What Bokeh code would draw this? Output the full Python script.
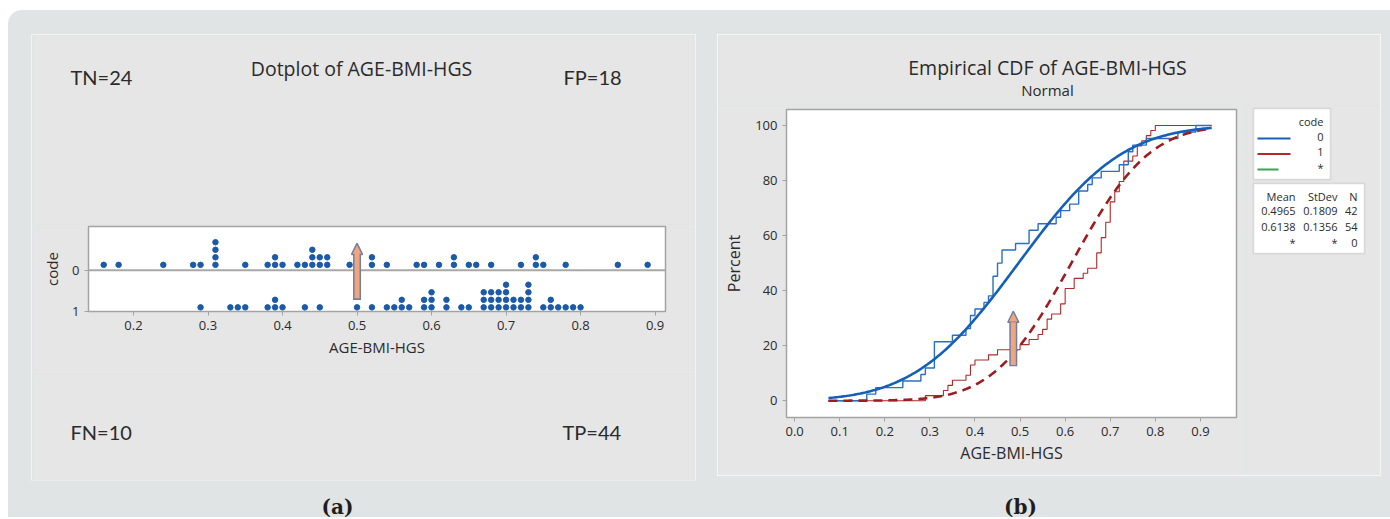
import numpy as np
from math import erf, sqrt
from bokeh.plotting import figure
from bokeh.models import (Range1d, FixedTicker, Label, Span, Arrow, NormalHead,
                          BoxAnnotation, Spacer)
from bokeh.layouts import row, column
from bokeh.embed import file_html
from bokeh.resources import INLINE

# ---------------- data ----------------
code0_values = [0.16, 0.18, 0.24, 0.28, 0.29, 0.31, 0.31, 0.31, 0.31, 0.35, 0.38,
                0.39, 0.39, 0.40, 0.42, 0.43, 0.44, 0.44, 0.44, 0.45, 0.45, 0.46,
                0.46, 0.49, 0.52, 0.52, 0.54, 0.58, 0.59, 0.61, 0.63, 0.63, 0.65,
                0.66, 0.68, 0.72, 0.74, 0.74, 0.75, 0.78, 0.85, 0.89]
code1_values = [0.29, 0.33, 0.34, 0.35, 0.38, 0.39, 0.39, 0.40, 0.43, 0.45, 0.50,
                0.52, 0.54, 0.55, 0.56, 0.56, 0.57, 0.59, 0.59, 0.60, 0.60, 0.60,
                0.62, 0.62, 0.64, 0.65, 0.67, 0.67, 0.67, 0.68, 0.68, 0.68, 0.69,
                0.69, 0.69, 0.70, 0.70, 0.70, 0.70, 0.71, 0.71, 0.72, 0.72, 0.73,
                0.73, 0.73, 0.73, 0.75, 0.76, 0.76, 0.77, 0.78, 0.79, 0.80]
group_codes = ["0", "1", "*"]
stat_means = [0.4965, 0.6138]
stat_stdevs = [0.1809, 0.1356]
stat_ns = [42, 54, 0]
confusion_labels = ["TN=24", "FP=18", "FN=10", "TP=44"]
fit_range = [0.075, 0.925]

dot_x_ticks = [0.2, 0.3, 0.4, 0.5, 0.6, 0.7, 0.8, 0.9]
dot_x_tick_labels = ["0.2", "0.3", "0.4", "0.5", "0.6", "0.7", "0.8", "0.9"]
dot_y_ticks = [0, 1]
dot_y_tick_labels = ["0", "1"]
cdf_x_ticks = [0.0, 0.1, 0.2, 0.3, 0.4, 0.5, 0.6, 0.7, 0.8, 0.9]
cdf_x_tick_labels = ["0.0", "0.1", "0.2", "0.3", "0.4", "0.5", "0.6", "0.7", "0.8", "0.9"]
cdf_y_ticks = [0, 20, 40, 60, 80, 100]
cdf_y_tick_labels = ["0", "20", "40", "60", "80", "100"]

# ---------------- styles ----------------
OUTER = "#e1e4e5"
PANEL = "#e6e6e6"
FRAME_LINE = "#a3a3a3"
TXT = "#2b2b2b"
DOT_BLUE = "#1b5aa8"
BLUE = "#1460b8"
BLUE_THIN = "#2a6fc4"
RED = "#9e1b20"
RED_THIN = "#b02a2a"
GREEN = "#3aa655"
ARROW_FILL = "#f2a47c"
ARROW_LINE = "#6f80a3"
FONT = "Open Sans"


def no_align(p):
    try:
        p.frame_align = False
    except Exception:
        pass


def style_axes(p, xticks, xlabels, yticks, ylabels, tick_size, label_size):
    for ax in (p.xaxis[0], p.yaxis[0]):
        ax.axis_line_color = FRAME_LINE
        ax.axis_line_width = 1
        ax.major_tick_line_color = FRAME_LINE
        ax.major_tick_in = 0
        ax.major_tick_out = 4
        ax.minor_tick_line_color = None
        ax.major_label_text_font = FONT
        ax.major_label_text_font_size = tick_size
        ax.major_label_text_color = TXT
        ax.axis_label_text_font = FONT
        ax.axis_label_text_font_size = label_size
        ax.axis_label_text_font_style = "normal"
        ax.axis_label_text_color = TXT
    p.xaxis[0].ticker = FixedTicker(ticks=xticks)
    p.xaxis[0].major_label_overrides = dict(zip(xticks, xlabels))
    p.yaxis[0].ticker = FixedTicker(ticks=yticks)
    p.yaxis[0].major_label_overrides = dict(zip(yticks, ylabels))
    p.xgrid.grid_line_color = None
    p.ygrid.grid_line_color = None


def text_fig(w, h, fill=PANEL):
    f = figure(width=w, height=h, output_backend="svg", toolbar_location=None,
               x_range=Range1d(0, w), y_range=Range1d(0, h), min_border=0,
               background_fill_color=fill, border_fill_color=fill, outline_line_color=None,
               x_axis_type=None, y_axis_type=None)
    no_align(f)
    f.xgrid.grid_line_color = None
    f.ygrid.grid_line_color = None
    return f


class Canvas:
    """Annotations in screen units, placed with page coordinates (frame covers the figure)."""
    def __init__(self, p, left_abs, bottom_abs):
        self.p, self.fl, self.fb = p, left_abs, bottom_abs

    def label(self, cx, cy, text, size, align="left", font=FONT, style="normal", color=TXT):
        self.p.add_layout(Label(x=cx - self.fl, y=self.fb - cy, x_units="screen", y_units="screen",
                                text=text, text_font=font, text_font_size=size,
                                text_font_style=style, text_color=color, text_align=align,
                                text_baseline="middle"))

    def box(self, l, r, t, b):
        self.p.add_layout(BoxAnnotation(left=l - self.fl, right=r - self.fl,
                                        top=self.fb - t, bottom=self.fb - b,
                                        left_units="screen", right_units="screen",
                                        top_units="screen", bottom_units="screen",
                                        fill_color="white", fill_alpha=1.0,
                                        line_color="#9d9d9d", line_width=1.5, level="underlay"))

    def hline(self, x0, x1, y, color):
        self.p.add_layout(Arrow(x_start=x0 - self.fl, y_start=self.fb - y,
                                x_end=x1 - self.fl, y_end=self.fb - y,
                                start_units="screen", end_units="screen",
                                line_color=color, line_width=2, start=None, end=None))


def stack_index(vals):
    seen, ks = {}, []
    for v in vals:
        k = seen.get(v, 0)
        ks.append(k)
        seen[v] = k + 1
    return ks


# ================= panel (a): dotplot (page x 32..695, y 35..480) =================
top_a = text_fig(663, 189)                      # y 35..224
ca = Canvas(top_a, 32, 224)
ca.label(361, 68, "Dotplot of AGE-BMI-HGS", "19.5px", align="center")
ca.label(70, 76, confusion_labels[0], "20px", font="Lato")
ca.label(563, 76, confusion_labels[1], "20px", font="Lato")

MA = dict(l=56, r=30, t=2, b=63)                 # frame 88..665, 226..311
pa = figure(width=663, height=150, output_backend="svg", toolbar_location=None,
            x_range=Range1d(0.1396, 0.914), y_range=Range1d(1.0, -1.06),
            min_border_left=MA["l"], min_border_right=MA["r"],
            min_border_top=MA["t"], min_border_bottom=MA["b"],
            background_fill_color="white", border_fill_color=PANEL,
            outline_line_color=FRAME_LINE, outline_line_width=1.5,
            x_axis_label="AGE-BMI-HGS", y_axis_label="code")
no_align(pa)
style_axes(pa, dot_x_ticks, dot_x_tick_labels, dot_y_ticks, dot_y_tick_labels, "13px", "15px")
pa.xaxis[0].axis_label_standoff = 4
pa.yaxis[0].axis_label_standoff = 7

pa.add_layout(Span(location=0, dimension="width", line_color="#a8a8a8", line_width=2))

STACK_STEP = 0.183
for vals, base in ((code0_values, -0.13), (code1_values, 0.9)):
    ks = stack_index(vals)
    ys = [base - k * STACK_STEP for k in ks]
    pa.scatter(vals, ys, marker="circle", size=5.5, fill_color=DOT_BLUE, line_color=DOT_BLUE)

ARROW_A = dict(x=0.5, y0=0.72, y1=-0.65)
pa.add_layout(Arrow(x_start=ARROW_A["x"], y_start=ARROW_A["y0"], x_end=ARROW_A["x"], y_end=ARROW_A["y1"],
                    line_color=ARROW_LINE, line_width=8,
                    end=NormalHead(size=11, fill_color=ARROW_FILL, line_color=ARROW_LINE, line_width=1.5)))
pa.add_layout(Arrow(x_start=ARROW_A["x"], y_start=ARROW_A["y0"] - 0.04, x_end=ARROW_A["x"],
                    y_end=ARROW_A["y1"] + 0.22, line_color=ARROW_FILL, line_width=5, end=None))

bot_a = text_fig(663, 106)                      # y 374..480
cba = Canvas(bot_a, 32, 480)
cba.label(70, 431, confusion_labels[2], "20px", font="Lato")
cba.label(562, 431, confusion_labels[3], "20px", font="Lato")

panel_a = column(top_a, pa, bot_a, styles={"outline": "1px solid #f3f3f3"})

# ================= panel (b): empirical CDF (page x 718..1380, y 35..475) =================
top_b = text_fig(662, 70)                       # y 35..105
ctb = Canvas(top_b, 718, 105)
ctb.label(1047, 67, "Empirical CDF of AGE-BMI-HGS", "19.5px", align="center")
ctb.label(1047, 89, "Normal", "15px", align="center")

MB = dict(l=68, r=10, t=4, b=58)                 # frame 786..1236, 109..417
pb = figure(width=528, height=370, output_backend="svg", toolbar_location=None,
            x_range=Range1d(-0.018, 0.98), y_range=Range1d(-6.1, 105.8),
            min_border_left=MB["l"], min_border_right=MB["r"],
            min_border_top=MB["t"], min_border_bottom=MB["b"],
            background_fill_color="white", border_fill_color=PANEL,
            outline_line_color=FRAME_LINE, outline_line_width=1.5,
            x_axis_label="AGE-BMI-HGS", y_axis_label="Percent")
no_align(pb)
style_axes(pb, cdf_x_ticks, cdf_x_tick_labels, cdf_y_ticks, cdf_y_tick_labels, "13px", "16px")
pb.xaxis[0].axis_label_standoff = 3
pb.yaxis[0].axis_label_standoff = 7


def ecdf_xy(vals, lo, hi):
    n = len(vals)
    xs, ys = [lo], [0.0]
    cum = 0
    for u in sorted(set(vals)):
        prev = 100.0 * cum / n
        cum += vals.count(u)
        xs += [u, u]
        ys += [prev, 100.0 * cum / n]
    xs.append(hi)
    ys.append(100.0)
    return xs, ys


def normal_cdf(xs, m, s):
    return [100.0 * 0.5 * (1 + erf((x - m) / (s * sqrt(2)))) for x in xs]


ex0, ey0 = ecdf_xy(code0_values, fit_range[0], fit_range[1])
ex1, ey1 = ecdf_xy(code1_values, fit_range[0], fit_range[1])
pb.line(ex1, ey1, line_color=RED_THIN, line_width=1.1)
pb.line(ex0, ey0, line_color=BLUE_THIN, line_width=1.4)

fx = list(np.linspace(fit_range[0], fit_range[1], 240))
pb.line(fx, normal_cdf(fx, stat_means[1], stat_stdevs[1]), line_color=RED, line_width=2.6,
        line_dash="9 6")
pb.line(fx, normal_cdf(fx, stat_means[0], stat_stdevs[0]), line_color=BLUE, line_width=2.6)

ARROW_B = dict(x=0.485, y0=12.5, y1=32.5)
pb.add_layout(Arrow(x_start=ARROW_B["x"], y_start=ARROW_B["y0"], x_end=ARROW_B["x"], y_end=ARROW_B["y1"],
                    line_color=ARROW_LINE, line_width=8,
                    end=NormalHead(size=11, fill_color=ARROW_FILL, line_color=ARROW_LINE, line_width=1.5)))
pb.add_layout(Arrow(x_start=ARROW_B["x"], y_start=ARROW_B["y0"] + 0.5, x_end=ARROW_B["x"],
                    y_end=ARROW_B["y1"] - 4.0, line_color=ARROW_FILL, line_width=5, end=None))

# legend / statistics panel to the right of the CDF (page x 1246..1380, y 105..475)
leg_b = text_fig(134, 370)
cl = Canvas(leg_b, 1246, 475)
cl.box(1253, 1330, 108, 179)
cl.label(1323, 121, "code", "11px", align="right")
leg_colors = [BLUE, RED_THIN, GREEN]
leg_len = [33, 33, 21]
for i, code in enumerate(group_codes):
    yy = 136 + i * 15.5
    cl.hline(1257, 1257 + leg_len[i], yy + 2, leg_colors[i])
    cl.label(1323, yy, code, "11px", align="right")

cl.box(1253, 1364, 183, 253)
col_right = [1295, 1337, 1357]
headers = ["Mean", "StDev", "N"]
for j, h in enumerate(headers):
    cl.label(col_right[j], 196, h, "11px", align="right")
for i in range(3):
    yy = 210 + i * 16
    if i < 2:
        cells = [f"{stat_means[i]:.4f}", f"{stat_stdevs[i]:.4f}", str(stat_ns[i])]
    else:
        cells = ["*", "*", str(stat_ns[i])]
    for j, c in enumerate(cells):
        cl.label(col_right[j], yy, c, "11px", align="right")

panel_b = column(top_b, row(pb, leg_b), styles={"outline": "1px solid #f6f6f6"})

# ================= captions (page y 480..517) =================
pc = text_fig(1382, 37, fill=OUTER)
cc = Canvas(pc, 8, 517)
panel_captions = ["(a)", "(b)"]
caption_x = [337, 1020]
for cx, cap in zip(caption_x, panel_captions):
    cc.label(cx, 506, cap, "20px", align="center", font="DejaVu Serif", style="bold",
             color="#1e1e1e")

main_row = row(Spacer(width=24, height=10), panel_a, Spacer(width=23, height=10), panel_b,
               Spacer(width=10, height=10))
root = column(Spacer(width=10, height=25), main_row, pc,
              styles={"background-color": OUTER, "border-top-left-radius": "14px",
                      "margin-top": "10px", "margin-left": "8px"})

open("out.html", "w").write(file_html(root, INLINE))
